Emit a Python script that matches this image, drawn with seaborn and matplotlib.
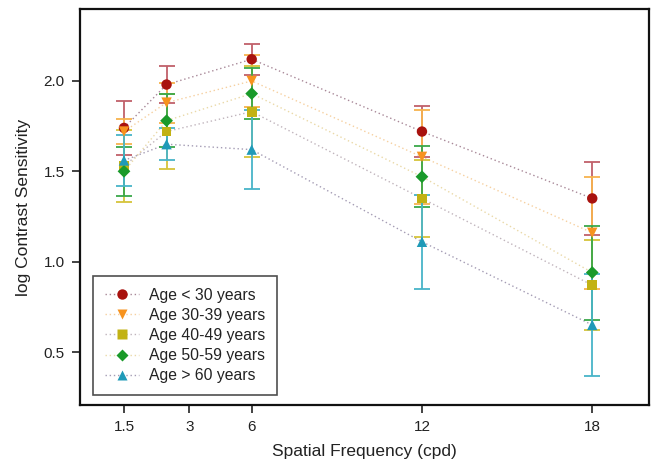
import matplotlib
matplotlib.use("Agg")
import matplotlib.pyplot as plt
import seaborn as sns
import pandas as pd
import numpy as np

# spatial frequencies (cpd) and group means / error bars
freqs = [1.5, 3, 6, 12, 18]
groups = ["Age < 30 years", "Age 30-39 years", "Age 40-49 years",
          "Age 50-59 years", "Age > 60 years"]

mean_lt30 = [1.74, 1.98, 2.12, 1.72, 1.35]
err_lt30 = [0.15, 0.10, 0.085, 0.14, 0.20]
mean_30s = [1.72, 1.88, 2.00, 1.58, 1.16]
err_30s = [0.07, 0.11, 0.145, 0.26, 0.31]
mean_40s = [1.53, 1.72, 1.83, 1.35, 0.87]
err_40s = [0.20, 0.21, 0.25, 0.215, 0.25]
mean_50s = [1.50, 1.78, 1.93, 1.47, 0.94]
err_50s = [0.135, 0.145, 0.14, 0.17, 0.26]
mean_gt60 = [1.56, 1.65, 1.62, 1.11, 0.65]
err_gt60 = [0.14, 0.09, 0.22, 0.26, 0.28]

tick_labels = ["1.5", "3", "6", "12", "18"]

means = [mean_lt30, mean_30s, mean_40s, mean_50s, mean_gt60]
errs = [err_lt30, err_30s, err_40s, err_50s, err_gt60]

df = pd.DataFrame({
    "freq": np.tile(freqs, len(groups)),
    "group": np.repeat(groups, len(freqs)),
    "cs": np.concatenate(means),
    "err": np.concatenate(errs),
})

# styling
marker_colors = ["#a8120e", "#f7931e", "#c2b214", "#1a9a2a", "#1f9ab8"]
err_colors = ["#c0606a", "#f7b34e", "#d6c43a", "#3aa84a", "#48b4c8"]
line_colors = ["#a88898", "#f6d0a0", "#c0b4bc", "#ead9a8", "#a49cb4"]
markers = ["o", "v", "s", "D", "^"]
msizes = [7.5, 7.5, 7, 6.5, 7.5]

sns.set_style("ticks")
plt.rcParams["font.family"] = ["Liberation Sans", "DejaVu Sans"]

fig = plt.figure(figsize=(6.52, 4.67), dpi=100)
ax = fig.add_axes([80 / 652, 1 - 405 / 467, 569 / 652, 396 / 467])

handles = []
for i, g in enumerate(groups):
    sub = df[df["group"] == g]
    sns.lineplot(data=sub, x="freq", y="cs", ax=ax, color=line_colors[i],
                 linestyle=(0, (1, 2)), linewidth=1.0, legend=False,
                 errorbar=None)
for i, g in enumerate(groups):
    sub = df[df["group"] == g]
    ax.errorbar(sub["freq"], sub["cs"], yerr=sub["err"], fmt="none",
                ecolor=err_colors[i], elinewidth=1.3, capsize=6,
                capthick=1.3, zorder=3)
for i, g in enumerate(groups):
    sub = df[df["group"] == g]
    sns.scatterplot(data=sub, x="freq", y="cs", ax=ax, color=marker_colors[i],
                    marker=markers[i], s=msizes[i] ** 2, edgecolor="none",
                    zorder=4, legend=False)
    h, = ax.plot([], [], color=line_colors[i], linestyle=(0, (1, 2)),
                 linewidth=1.0, marker=markers[i], markersize=msizes[i],
                 markerfacecolor=marker_colors[i], markeredgecolor="none")
    handles.append(h)

ax.set_xlim(-0.05, 20.0)
ax.set_ylim(0.207, 2.398)
# the original places the "3" tick a bit right of the data column
ax.set_xticks([1.5, 3.8, 6, 12, 18])
ax.set_xticklabels(tick_labels)
ax.set_yticks([0.5, 1.0, 1.5, 2.0])
ax.set_yticklabels(["0.5", "1.0", "1.5", "2.0"])
ax.tick_params(axis="both", labelsize=11, length=6, width=1.2,
               color="#222222", labelcolor="#222222", direction="out", pad=5)

for s in ax.spines.values():
    s.set_visible(True)
    s.set_linewidth(1.6)
    s.set_color("#111111")

ax.set_xlabel("Spatial Frequency (cpd)", fontsize=12.5, color="#222222",
              labelpad=7)
ax.set_ylabel("log Contrast Sensitivity", fontsize=12.5, color="#222222",
              labelpad=9)

leg = ax.legend(handles, groups, loc="lower left",
                bbox_to_anchor=(13 / 569, 10 / 396), fontsize=11.3,
                frameon=True, fancybox=False, handlelength=2.2,
                handletextpad=0.6, labelspacing=0.33, borderpad=0.75,
                borderaxespad=0)
leg.get_frame().set_edgecolor("#222222")
leg.get_frame().set_linewidth(1.2)
for t in leg.get_texts():
    t.set_color("#222222")

fig.savefig("out.png", dpi=100)
